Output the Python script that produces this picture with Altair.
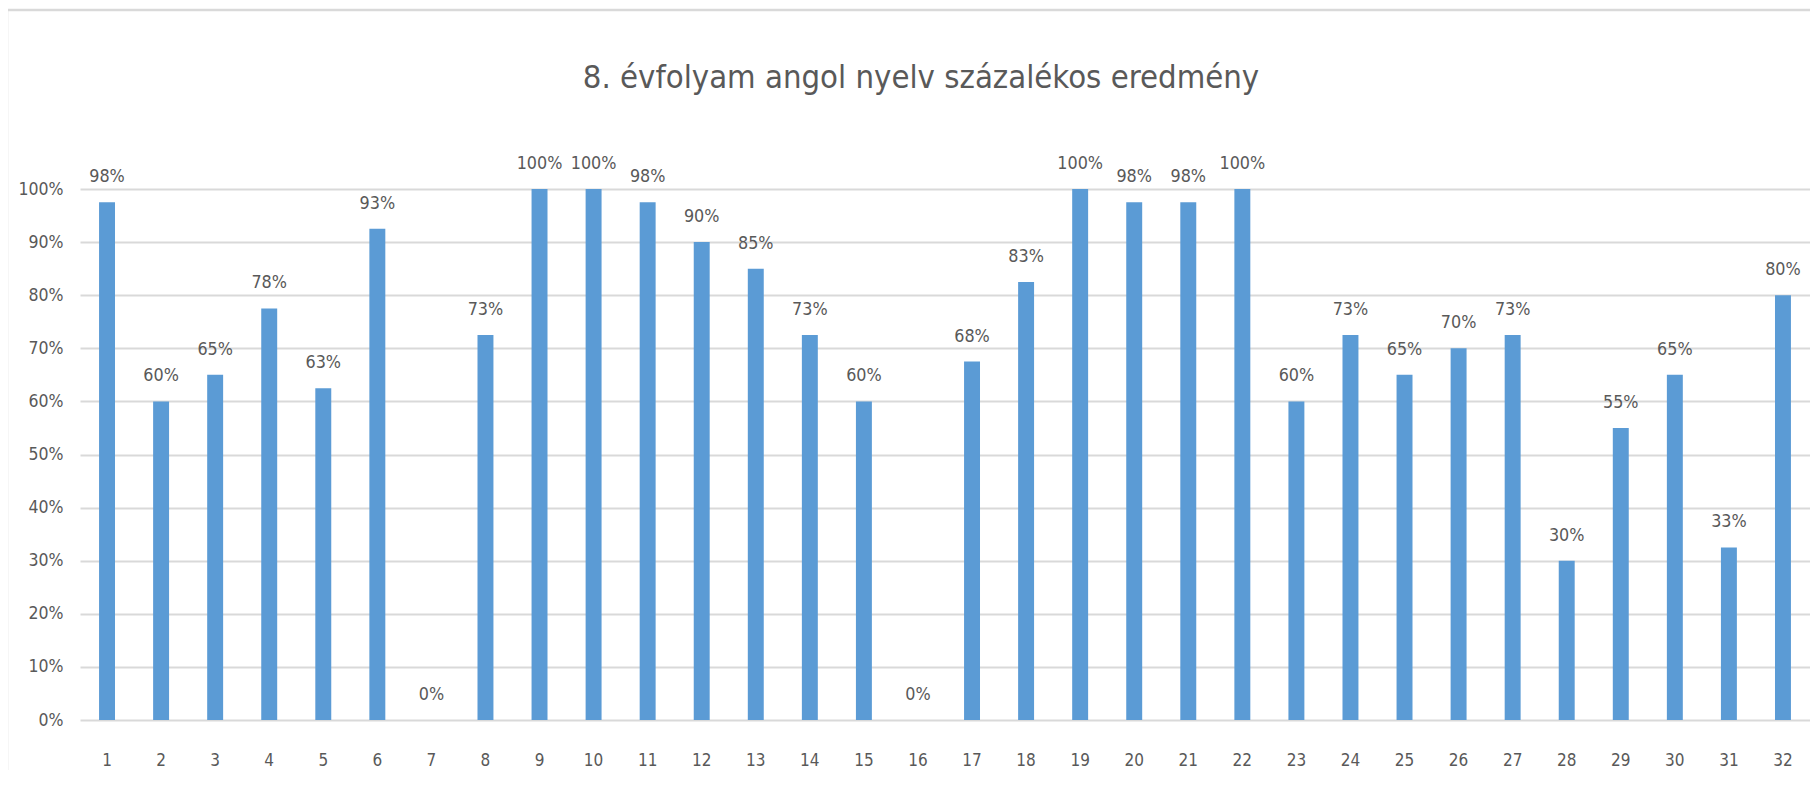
import altair as alt
import pandas as pd

title_text = "8. évfolyam angol nyelv százalékos eredmény"
categories = list(range(1, 33))
values = [97.5, 60, 65, 77.5, 62.5, 92.5, 0, 72.5, 100, 100, 97.5, 90, 85, 72.5, 60, 0,
          67.5, 82.5, 100, 97.5, 97.5, 100, 60, 72.5, 65, 70, 72.5, 30, 55, 65, 32.5, 80]
y_ticks = [0, 10, 20, 30, 40, 50, 60, 70, 80, 90, 100]

df = pd.DataFrame({"n": categories, "pct": values})

FONT = "Liberation Sans Narrow, DejaVu Sans Condensed, Open Sans"
TXT = "#595959"
GRID = "#d9d9d9"
W, H = 1730, 531

base = alt.Chart(df)

x_enc = alt.X("n:O", sort=None, title=None,
              scale=alt.Scale(paddingInner=0.705, paddingOuter=0.3525),
              axis=alt.Axis(labelAngle=0, labelFont=FONT, labelFontSize=17, labelColor=TXT,
                            labelBaseline="alphabetic", labelPadding=45, ticks=False,
                            tickSize=0, domain=False, grid=False))
y_enc = alt.Y("pct:Q", title=None,
              scale=alt.Scale(domain=[0, 100], nice=False),
              axis=alt.Axis(values=y_ticks, labelExpr="datum.value + '%'", labelFont=FONT,
                            labelFontSize=17.5, labelColor=TXT, labelPadding=17, ticks=False,
                            tickSize=0, domain=False, grid=True, gridColor=GRID, gridWidth=2))

bars = base.mark_bar(color="#5b9bd5").encode(x=x_enc, y=y_enc)

labels = base.transform_calculate(
    lbl="round(datum.pct) + '%'"
).mark_text(font=FONT, fontSize=17.8, color=TXT, baseline="alphabetic", align="center", dy=-20).encode(
    x=alt.X("n:O", sort=None),
    y=alt.Y("pct:Q"),
    text="lbl:N",
)

title = alt.Chart(pd.DataFrame({"t": [title_text]})).mark_text(
    font=FONT, fontSize=32.6, color=TXT, baseline="alphabetic", align="center"
).encode(x=alt.value(841), y=alt.value(-101), text="t:N")

border_df = pd.DataFrame({"k": [0]})
border_top = alt.Chart(border_df).mark_rule(color=GRID, strokeWidth=2.5).encode(
    x=alt.value(-73), x2=alt.value(W), y=alt.value(-179))
border_left = alt.Chart(border_df).mark_rule(color=GRID, strokeWidth=2.5).encode(
    x=alt.value(-73), y=alt.value(-179), y2=alt.value(H + 50))

chart = alt.layer(bars, labels, title, border_top, border_left).properties(
    width=W, height=H,
    autosize=alt.AutoSizeParams(type="none"),
    padding={"left": 72, "top": 181, "right": 0, "bottom": 50},
    background="white",
).configure_view(stroke=None)

chart.save("out.html", embed_options={"renderer": "svg", "actions": False})
